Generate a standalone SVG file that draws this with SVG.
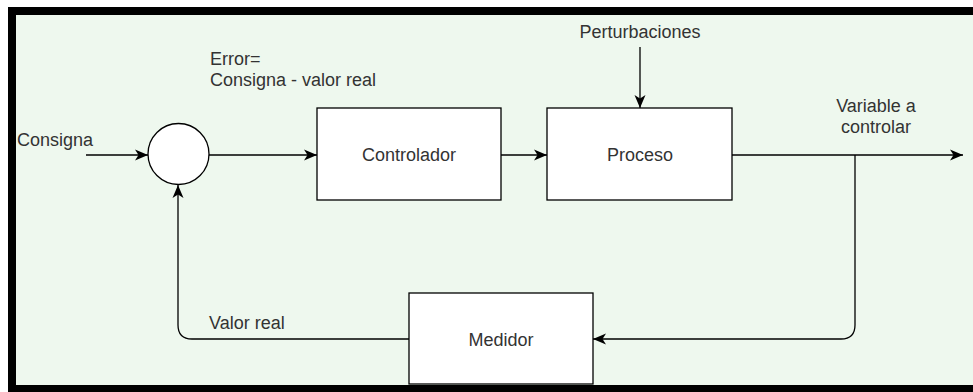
<svg xmlns="http://www.w3.org/2000/svg" width="973" height="392" viewBox="0 0 973 392">
<style>
.box{fill:#fff;stroke:#000;stroke-width:1.3}
.lbl{font-family:"Liberation Sans",Arial,sans-serif;font-size:18px;fill:#333}
.mid{text-anchor:middle}
.edge{fill:none;stroke:#000;stroke-width:1.3}
</style>
<defs>
<marker id="arr" markerUnits="userSpaceOnUse" markerWidth="14" markerHeight="12" viewBox="0 0 14 12" refX="13" refY="6" orient="auto">
<path d="M0,0.5 L13,6 L0,11.5 L3.5,6 Z" fill="#000"/>
</marker>
</defs>
<rect x="0" y="0" width="973" height="392" fill="#fff"/>
<rect x="8" y="7" width="965" height="385" fill="#000"/>
<rect x="16" y="15" width="957" height="370" fill="#eef8ee"/>
<g id="connectors">
<path class="edge" d="M86,155 L148,155" marker-end="url(#arr)"/>
<path class="edge" d="M209,155 L317,155" marker-end="url(#arr)"/>
<path class="edge" d="M501,155 L547,155" marker-end="url(#arr)"/>
<path class="edge" d="M640,47 L640,108" marker-end="url(#arr)"/>
<path class="edge" d="M732,155 L963,155" marker-end="url(#arr)"/>
<path class="edge" d="M855,155 L855,325 Q855,339 841,339 L593,339" marker-end="url(#arr)"/>
<path class="edge" d="M409,339 L192,339 Q178,339 178,325 L178,185" marker-end="url(#arr)"/>
</g>
<g id="sum">
<circle class="box" cx="178.5" cy="154" r="30.5"/>
</g>
<g id="controlador">
<rect class="box" x="317" y="108" width="184" height="92"/>
<text class="lbl mid" x="409" y="161">Controlador</text>
</g>
<g id="proceso">
<rect class="box" x="547" y="108" width="185" height="92"/>
<text class="lbl mid" x="640" y="161">Proceso</text>
</g>
<g id="medidor">
<rect class="box" x="409" y="293" width="184" height="91"/>
<text class="lbl mid" x="501" y="346">Medidor</text>
</g>
<g id="labels">
<text class="lbl" x="17" y="146">Consigna</text>
<text class="lbl" x="210" y="65">Error=</text>
<text class="lbl" x="210" y="86">Consigna - valor real</text>
<text class="lbl mid" x="640" y="38">Perturbaciones</text>
<text class="lbl mid" x="876" y="112">Variable a</text>
<text class="lbl mid" x="876" y="133">controlar</text>
<text class="lbl" x="209" y="329">Valor real</text>
</g>
</svg>
